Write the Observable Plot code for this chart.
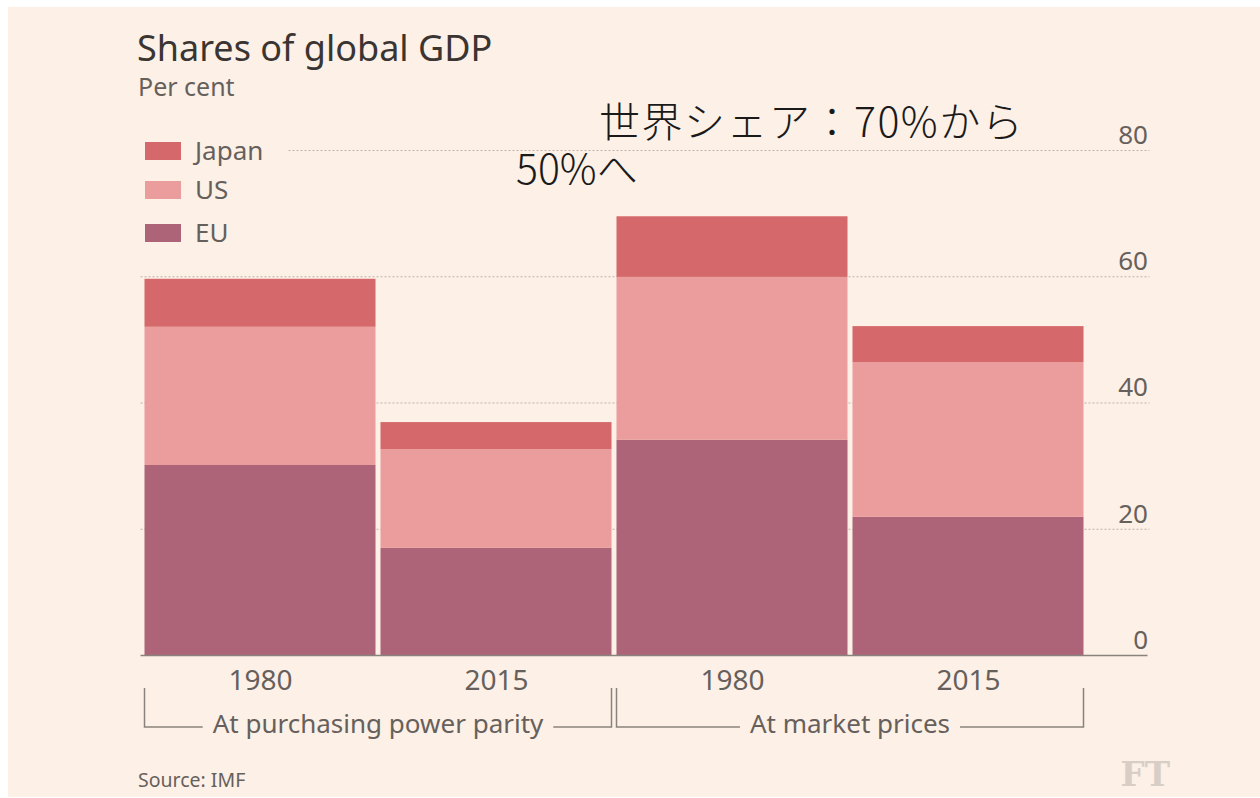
<!DOCTYPE html>
<html>
<head>
<meta charset="utf-8">
<script src="https://cdn.jsdelivr.net/npm/d3@7"></script>
<script src="https://cdn.jsdelivr.net/npm/@observablehq/plot@0.6"></script>
<style>
  html, body { margin: 0; padding: 0; background: #ffffff; }
  #chart { position: relative; width: 1260px; height: 798px; }
  svg { display: block; }
</style>
</head>
<body>
<div id="chart"></div>
<script>
// ---- data ----
const bars = ["PPP 1980", "PPP 2015", "Market 1980", "Market 2015"];
const barYears = ["1980", "2015", "1980", "2015"];
const series = ["EU", "US", "Japan"];
const euValues = [30.1, 17.0, 34.1, 21.9];
const usValues = [21.9, 15.6, 25.8, 24.5];
const japanValues = [7.6, 4.3, 9.6, 5.7];
const yTicks = [0, 20, 40, 60, 80];
const groups = [
  {label: "At purchasing power parity", from: "PPP 1980", to: "PPP 2015"},
  {label: "At market prices", from: "Market 1980", to: "Market 2015"}
];
const colors = {Japan: "#d4686a", US: "#eb9c9c", EU: "#ad6479"};

const valuesBySeries = {EU: euValues, US: usValues, Japan: japanValues};
const rows = [];
series.forEach(s => bars.forEach((b, i) => rows.push({bar: b, series: s, value: valuesBySeries[s][i]})));

const font = "'Noto Sans', 'Open Sans', sans-serif";
const textColor = "#66605c";
const bg = "#fdf0e6";

const W = 1260, H = 798;
const mL = 140.5, mR = 172.5, mT = 150, mB = 143;

const plot = Plot.plot({
  width: W,
  height: H,
  marginLeft: mL,
  marginRight: mR,
  marginTop: mT,
  marginBottom: mB,
  style: {background: "transparent", fontFamily: font, overflow: "visible"},
  x: {domain: bars, padding: 0, axis: null},
  y: {domain: [0, 80], axis: null},
  color: {domain: series, range: series.map(s => colors[s])},
  marks: [
    Plot.ruleY(yTicks.filter(d => d > 0), {stroke: "#bdb3ab", strokeDasharray: "2,2", strokeWidth: 1, insetRight: -62}),
    Plot.barY(rows, Plot.stackY({x: "bar", y: "value", fill: "series", order: series, insetLeft: 2.5, insetRight: 2.5})),
    Plot.ruleY([0], {stroke: "#8a827c", strokeWidth: 1.5, insetRight: -60}),
    Plot.text(yTicks, {y: d => d, text: d => String(d), frameAnchor: "right", textAnchor: "end", dx: 60, dy: -15,
      fill: textColor, fontSize: 26, fontFamily: font}),
    Plot.text(bars, {x: d => d, text: (d, i) => barYears[i], frameAnchor: "bottom", dy: 34,
      fill: textColor, fontSize: 28, fontFamily: font})
  ]
});

const container = document.getElementById("chart");
container.appendChild(plot);

const svg = d3.select(plot);
// background panel (reference has a thin white border on top/left)
svg.insert("rect", ":first-child")
  .attr("x", 8).attr("y", 7).attr("width", W - 8).attr("height", H - 8)
  .attr("fill", bg);

// brackets under the groups
const xs = plot.scale("x");
const bw = xs.bandwidth;
const ann = svg.append("g").attr("font-family", font);
groups.forEach(g => {
  const x0 = xs.apply(g.from) + 2.5;
  const x1 = xs.apply(g.to) + bw - 2.5;
  const yTop = 688, yBot = 727;
  const mid = (x0 + x1) / 2;
  const t = ann.append("text")
    .attr("x", mid).attr("y", 733)
    .attr("text-anchor", "middle")
    .attr("font-size", 26)
    .attr("fill", textColor)
    .text(g.label);
  const tw = t.node().getComputedTextLength();
  const gap = 10;
  ann.append("path")
    .attr("d", `M${x0},${yTop}V${yBot}H${mid - tw / 2 - gap}`)
    .attr("fill", "none").attr("stroke", "#8a827c").attr("stroke-width", 1.5);
  ann.append("path")
    .attr("d", `M${mid + tw / 2 + gap},${yBot}H${x1}V${yTop}`)
    .attr("fill", "none").attr("stroke", "#8a827c").attr("stroke-width", 1.5);
});

// legend (covers the gridline behind it)
const leg = svg.append("g").attr("font-family", font).attr("text-anchor", "start");
leg.append("rect").attr("x", 138).attr("y", 132).attr("width", 150).attr("height", 118).attr("fill", bg);
const legendItems = [
  {name: "Japan", y: 151},
  {name: "US", y: 190},
  {name: "EU", y: 233}
];
legendItems.forEach(it => {
  leg.append("rect").attr("x", 145).attr("y", it.y - 9).attr("width", 36).attr("height", 18)
    .attr("fill", colors[it.name]);
  leg.append("text").attr("x", 195).attr("y", it.y).attr("dy", "0.36em")
    .attr("font-size", 26).attr("fill", textColor).text(it.name);
});

// titles
const head = svg.append("g").attr("font-family", font).attr("text-anchor", "start");
head.append("text").attr("x", 137).attr("y", 61)
  .attr("font-size", 36).attr("fill", "#3a3532")
  .text("Shares of global GDP");
head.append("text").attr("x", 138).attr("y", 96)
  .attr("font-size", 25).attr("fill", textColor)
  .text("Per cent");

// source and logo
head.append("text").attr("x", 138).attr("y", 787)
  .attr("font-size", 19.5).attr("fill", textColor)
  .text("Source: IMF");
svg.append("text").attr("x", 1170).attr("y", 786)
  .attr("text-anchor", "end")
  .attr("font-family", "'DejaVu Serif', 'Liberation Serif', serif").attr("font-weight", "bold")
  .attr("font-size", 34).attr("fill", "#d8cec6")
  .text("FT");

// Japanese annotation
const jp = svg.append("g").attr("font-family", "'Noto Sans CJK JP', sans-serif").attr("font-weight", 300)
  .attr("fill", "#1a1a1a").attr("text-anchor", "start");
jp.append("text").attr("x", 599).attr("y", 137).attr("font-size", 41).attr("letter-spacing", 1.5).text("世界シェア：70%から");
jp.append("text").attr("x", 516).attr("y", 184).attr("font-size", 41).text("50%へ");
</script>
</body>
</html>
